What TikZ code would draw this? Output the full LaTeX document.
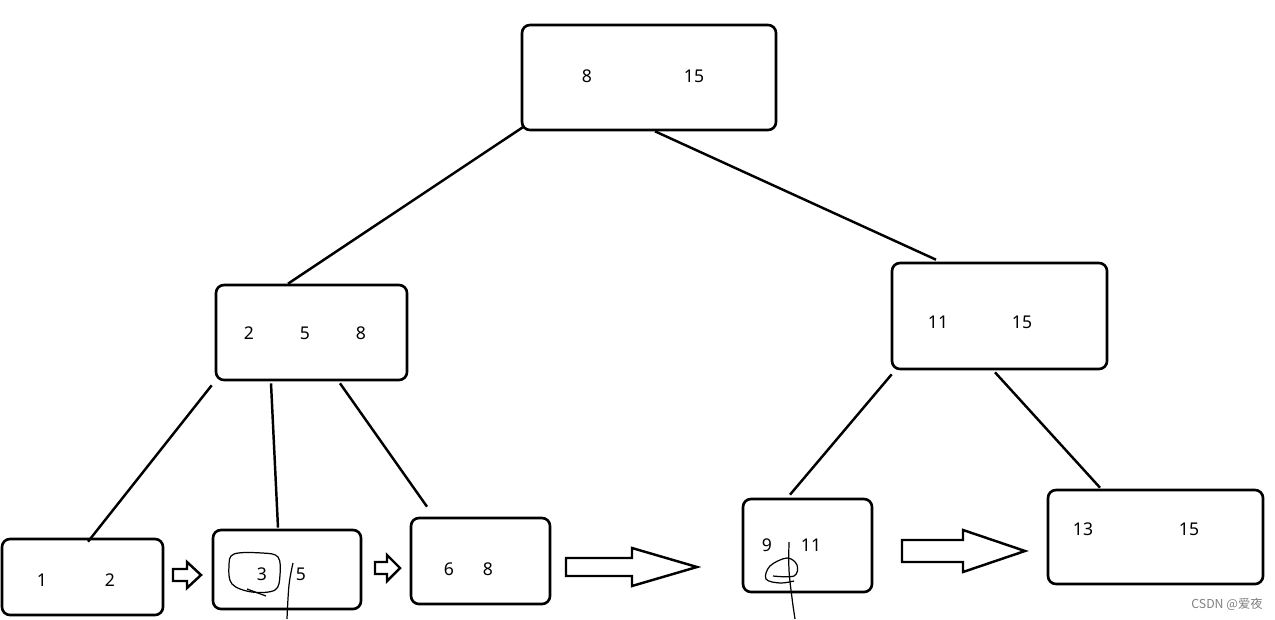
\documentclass[tikz,border=0pt]{standalone}
\usepackage{fontspec}
\setmainfont{Noto Sans}
\newfontfamily\cjk{Noto Sans CJK SC}
\usetikzlibrary{fit,calc}
\tikzset{
  box/.style={draw,line width=1.5pt,rounded corners=0.16cm,inner sep=0pt},
  num/.style={font=\fontsize{10}{12}\selectfont,inner sep=0pt},
  edge/.style={line width=1.4pt},
  hollow/.style={draw,line width=1.4pt,fill=white},
  scribble/.style={line width=0.7pt}
}
\begin{document}
\begin{tikzpicture}[x=0.02cm,y=-0.02cm]
\useasboundingbox (0,0) rectangle (1275,619);
% nodes of the tree
\node[box,fit={(522,25) (776,130)}] (root) {};
\node[box,fit={(216,285) (407,380)}] (midL) {};
\node[box,fit={(892,263) (1107,369)}] (midR) {};
\node[box,fit={(2,539) (163,615)}] (leafA) {};
\node[box,fit={(213,530) (361,609)}] (leafB) {};
\node[box,fit={(411,518) (550,604)}] (leafC) {};
\node[box,fit={(743,499) (872,592)}] (leafD) {};
\node[box,fit={(1048,490) (1263,584)}] (leafE) {};
% keys
\node[num] (r1) at (587,76) {8};
\node[num] (r2) at (694,76) {15};
\node[num] (l1) at (249,333) {2};
\node[num] (l2) at (305,333) {5};
\node[num] (l3) at (361,333) {8};
\node[num] (m1) at (938,322) {11};
\node[num] (m2) at (1022,322) {15};
\node[num] (a1) at (42,580) {1};
\node[num] (a2) at (110,580) {2};
\node[num] (b1) at (262,574) {3};
\node[num] (b2) at (301,574) {5};
\node[num] (c1) at (449,569) {6};
\node[num] (c2) at (488,569) {8};
\node[num] (d1) at (767,545) {9};
\node[num] (d2) at (811,545) {11};
\node[num] (e1) at (1083,529) {13};
\node[num] (e2) at (1189,529) {15};
% edges
\draw[edge] ([xshift=0.04cm,yshift=0.08cm]root.south west) -- ([xshift=-0.47cm]midL.north);
\draw[edge] ([xshift=0.12cm]root.south) -- ([xshift=-1.27cm,yshift=0.04cm]midR.north);
\draw[edge] ([xshift=-0.06cm,yshift=-0.08cm]midL.south west) -- ([xshift=0.11cm,yshift=-0.08cm]leafA.north);
\draw[edge] ([xshift=-0.81cm,yshift=-0.04cm]midL.south) -- ([xshift=-0.18cm,yshift=0.02cm]leafB.north);
\draw[edge] ([xshift=0.57cm,yshift=-0.04cm]midL.south) -- ([xshift=-1.07cm,yshift=0.2cm]leafC.north);
\draw[edge] ([xshift=0.02cm,yshift=-0.08cm]midR.south west) -- ([xshift=-0.35cm,yshift=0.06cm]leafD.north);
\draw[edge] ([xshift=-0.09cm,yshift=-0.04cm]midR.south) -- ([xshift=-1.11cm,yshift=0.02cm]leafE.north);
% hollow arrows between the leaves
\draw[hollow] (173,569) -- (187,569) -- (187,562) -- (201,575) -- (187,588) -- (187,581) -- (173,581) -- cycle;
\draw[hollow] (375,562) -- (387,562) -- (387,555) -- (400,568) -- (387,581) -- (387,574) -- (375,574) -- cycle;
\draw[hollow] (566,558) -- (632,558) -- (632,548) -- (697,567) -- (632,586) -- (632,576) -- (566,576) -- cycle;
\draw[hollow] (902,540) -- (963,540) -- (963,530) -- (1025,551) -- (963,572) -- (963,562) -- (902,562) -- cycle;
% pen marks
\draw[scribble] plot[smooth cycle,tension=0.6] coordinates {(234,554) (262,553) (278,557) (280,575) (275,590) (252,592) (232,584) (229,566)};
\draw[scribble] (247,589) -- (266,596);
\draw[scribble] plot[smooth,tension=0.6] coordinates {(293,563) (289,585) (287,619)};
\draw[scribble] plot[smooth,tension=0.6] coordinates {(789,542) (789,570) (792,598) (795,619)};
\draw[scribble] plot[smooth,tension=0.6] coordinates {(773,576) (794,576) (797,565) (787,558) (770,566) (766,579) (780,583) (794,581)};
% watermark
\node[font=\cjk\fontsize{7}{8}\selectfont,text=gray,inner sep=0pt] (mark) at (1227,604) {CSDN @爱夜};
\end{tikzpicture}
\end{document}
